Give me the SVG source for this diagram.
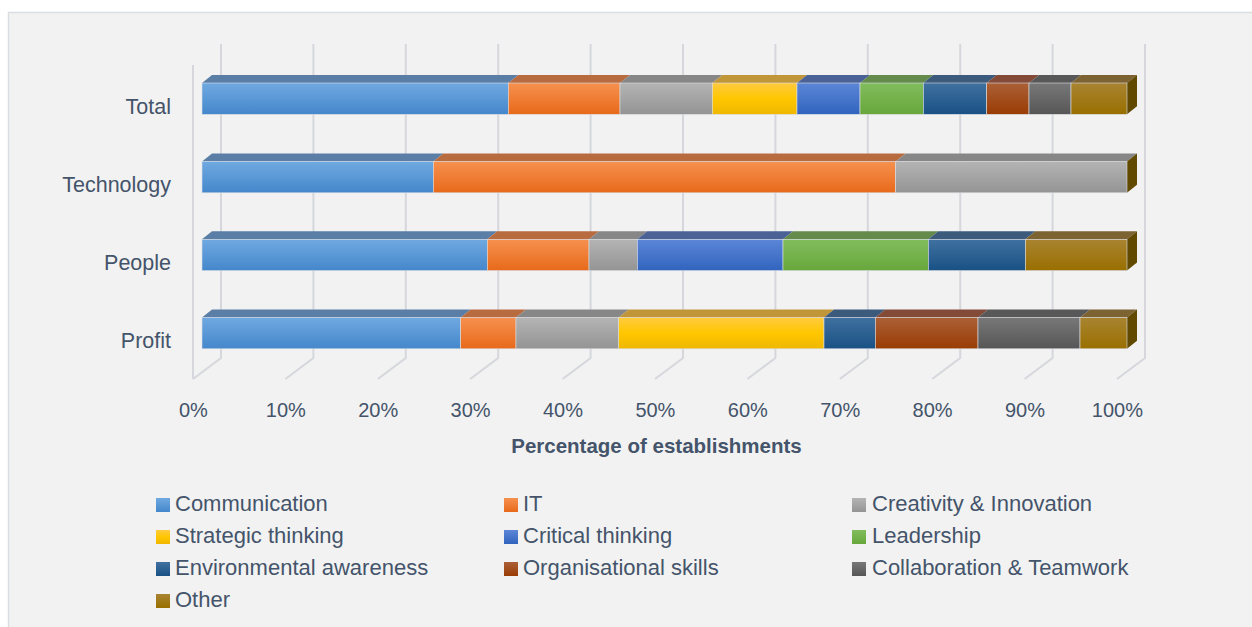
<svg xmlns="http://www.w3.org/2000/svg" width="1252" height="627" viewBox="0 0 1252 627">
<defs>
<linearGradient id="gC" x1="0" y1="0" x2="0" y2="1"><stop offset="0" stop-color="#70a9e1"/><stop offset="1" stop-color="#4487cb"/></linearGradient>
<linearGradient id="gI" x1="0" y1="0" x2="0" y2="1"><stop offset="0" stop-color="#f6914f"/><stop offset="1" stop-color="#e8691a"/></linearGradient>
<linearGradient id="gR" x1="0" y1="0" x2="0" y2="1"><stop offset="0" stop-color="#b4b4b4"/><stop offset="1" stop-color="#949494"/></linearGradient>
<linearGradient id="gS" x1="0" y1="0" x2="0" y2="1"><stop offset="0" stop-color="#ffca40"/><stop offset="0.5" stop-color="#ffc700"/><stop offset="1" stop-color="#efb700"/></linearGradient>
<linearGradient id="gK" x1="0" y1="0" x2="0" y2="1"><stop offset="0" stop-color="#5c86d7"/><stop offset="1" stop-color="#3164be"/></linearGradient>
<linearGradient id="gL" x1="0" y1="0" x2="0" y2="1"><stop offset="0" stop-color="#82bd5d"/><stop offset="1" stop-color="#67a73b"/></linearGradient>
<linearGradient id="gE" x1="0" y1="0" x2="0" y2="1"><stop offset="0" stop-color="#4071a0"/><stop offset="1" stop-color="#195185"/></linearGradient>
<linearGradient id="gO" x1="0" y1="0" x2="0" y2="1"><stop offset="0" stop-color="#ab6037"/><stop offset="1" stop-color="#9a3c04"/></linearGradient>
<linearGradient id="gT" x1="0" y1="0" x2="0" y2="1"><stop offset="0" stop-color="#787878"/><stop offset="1" stop-color="#565656"/></linearGradient>
<linearGradient id="gH" x1="0" y1="0" x2="0" y2="1"><stop offset="0" stop-color="#a98431"/><stop offset="1" stop-color="#996f00"/></linearGradient>
<style>
.txt{font-family:"Liberation Sans",Arial,sans-serif;fill:#44546a}
.cat{font-size:21.5px;text-anchor:end}
.ax{font-size:20px;text-anchor:middle}
.ttl{font-size:20.5px;font-weight:bold;text-anchor:middle}
.leg{font-size:22px}
.grid{stroke:#d5d7dc;stroke-width:2;fill:none}
.fC{fill:url(#gC)}.fI{fill:url(#gI)}.fR{fill:url(#gR)}.fS{fill:url(#gS)}.fK{fill:url(#gK)}
.fL{fill:url(#gL)}.fE{fill:url(#gE)}.fO{fill:url(#gO)}.fT{fill:url(#gT)}.fH{fill:url(#gH)}
.tC{fill:#5a7ea6}.tI{fill:#b96b40}.tR{fill:#878787}.tS{fill:#c09638}.tK{fill:#4a6296}
.tL{fill:#648a4c}.tE{fill:#3c5a7c}.tO{fill:#844a38}.tT{fill:#585858}.tH{fill:#7d6232}
.side{fill:#614900}
.bar rect{stroke:#d9dde3;stroke-width:0.6}
</style>
</defs>

<rect x="0" y="0" width="1252" height="627" fill="#ffffff"/>
<rect x="8.5" y="12.5" width="1250" height="620" fill="#f2f2f2" stroke="#dadde2" stroke-width="1.5"/>

<g id="gridlines">
<path class="grid" d="M193,65 V379"/>
<path class="grid" d="M221,44 V358 L193,379"/>
<path class="grid" d="M313.4,44 V358 L285.4,379"/>
<path class="grid" d="M405.8,44 V358 L377.8,379"/>
<path class="grid" d="M498.2,44 V358 L470.2,379"/>
<path class="grid" d="M590.6,44 V358 L562.6,379"/>
<path class="grid" d="M683,44 V358 L655,379"/>
<path class="grid" d="M775.4,44 V358 L747.4,379"/>
<path class="grid" d="M867.8,44 V358 L839.8,379"/>
<path class="grid" d="M960.2,44 V358 L932.2,379"/>
<path class="grid" d="M1052.6,44 V358 L1024.6,379"/>
<path class="grid" d="M1145,44 V358 L1117,379"/>
</g>

<g id="bar-total" class="bar">
<polygon class="tC" points="202,83 508.3,83 518.3,75 212,75"/>
<polygon class="tI" points="508.3,83 620,83 630,75 518.3,75"/>
<polygon class="tR" points="620,83 712.3,83 722.3,75 630,75"/>
<polygon class="tS" points="712.3,83 797,83 807,75 722.3,75"/>
<polygon class="tK" points="797,83 860,83 870,75 807,75"/>
<polygon class="tL" points="860,83 923.3,83 933.3,75 870,75"/>
<polygon class="tE" points="923.3,83 986.7,83 996.7,75 933.3,75"/>
<polygon class="tO" points="986.7,83 1029,83 1039,75 996.7,75"/>
<polygon class="tT" points="1029,83 1071,83 1081,75 1039,75"/>
<polygon class="tH" points="1071,83 1127,83 1137,75 1081,75"/>
<polygon class="side" points="1127,83 1137,75 1137,106.3 1127,114.3"/>
<rect class="fC" x="202" y="83" width="306.3" height="31.3"/>
<rect class="fI" x="508.3" y="83" width="111.7" height="31.3"/>
<rect class="fR" x="620" y="83" width="92.3" height="31.3"/>
<rect class="fS" x="712.3" y="83" width="84.7" height="31.3"/>
<rect class="fK" x="797" y="83" width="63" height="31.3"/>
<rect class="fL" x="860" y="83" width="63.3" height="31.3"/>
<rect class="fE" x="923.3" y="83" width="63.4" height="31.3"/>
<rect class="fO" x="986.7" y="83" width="42.3" height="31.3"/>
<rect class="fT" x="1029" y="83" width="42" height="31.3"/>
<rect class="fH" x="1071" y="83" width="56" height="31.3"/>
</g>

<g id="bar-technology" class="bar">
<polygon class="tC" points="202,161.5 433.3,161.5 443.3,153.5 212,153.5"/>
<polygon class="tI" points="433.3,161.5 895.7,161.5 905.7,153.5 443.3,153.5"/>
<polygon class="tR" points="895.7,161.5 1127,161.5 1137,153.5 905.7,153.5"/>
<polygon class="side" points="1127,161.5 1137,153.5 1137,184.8 1127,192.8"/>
<rect class="fC" x="202" y="161.5" width="231.3" height="31.3"/>
<rect class="fI" x="433.3" y="161.5" width="462.4" height="31.3"/>
<rect class="fR" x="895.7" y="161.5" width="231.3" height="31.3"/>
</g>

<g id="bar-people" class="bar">
<polygon class="tC" points="202,239.3 487.3,239.3 497.3,231.3 212,231.3"/>
<polygon class="tI" points="487.3,239.3 589,239.3 599,231.3 497.3,231.3"/>
<polygon class="tR" points="589,239.3 637.3,239.3 647.3,231.3 599,231.3"/>
<polygon class="tK" points="637.3,239.3 783,239.3 793,231.3 647.3,231.3"/>
<polygon class="tL" points="783,239.3 928.3,239.3 938.3,231.3 793,231.3"/>
<polygon class="tE" points="928.3,239.3 1025.3,239.3 1035.3,231.3 938.3,231.3"/>
<polygon class="tH" points="1025.3,239.3 1127,239.3 1137,231.3 1035.3,231.3"/>
<polygon class="side" points="1127,239.3 1137,231.3 1137,262.6 1127,270.6"/>
<rect class="fC" x="202" y="239.3" width="285.3" height="31.3"/>
<rect class="fI" x="487.3" y="239.3" width="101.7" height="31.3"/>
<rect class="fR" x="589" y="239.3" width="48.3" height="31.3"/>
<rect class="fK" x="637.3" y="239.3" width="145.7" height="31.3"/>
<rect class="fL" x="783" y="239.3" width="145.3" height="31.3"/>
<rect class="fE" x="928.3" y="239.3" width="97" height="31.3"/>
<rect class="fH" x="1025.3" y="239.3" width="101.7" height="31.3"/>
</g>

<g id="bar-profit" class="bar">
<polygon class="tC" points="202,317.5 460.7,317.5 470.7,309.5 212,309.5"/>
<polygon class="tI" points="460.7,317.5 516,317.5 526,309.5 470.7,309.5"/>
<polygon class="tR" points="516,317.5 618.7,317.5 628.7,309.5 526,309.5"/>
<polygon class="tS" points="618.7,317.5 824,317.5 834,309.5 628.7,309.5"/>
<polygon class="tE" points="824,317.5 875.3,317.5 885.3,309.5 834,309.5"/>
<polygon class="tO" points="875.3,317.5 978,317.5 988,309.5 885.3,309.5"/>
<polygon class="tT" points="978,317.5 1080,317.5 1090,309.5 988,309.5"/>
<polygon class="tH" points="1080,317.5 1127,317.5 1137,309.5 1090,309.5"/>
<polygon class="side" points="1127,317.5 1137,309.5 1137,340.8 1127,348.8"/>
<rect class="fC" x="202" y="317.5" width="258.7" height="31.3"/>
<rect class="fI" x="460.7" y="317.5" width="55.3" height="31.3"/>
<rect class="fR" x="516" y="317.5" width="102.7" height="31.3"/>
<rect class="fS" x="618.7" y="317.5" width="205.3" height="31.3"/>
<rect class="fE" x="824" y="317.5" width="51.3" height="31.3"/>
<rect class="fO" x="875.3" y="317.5" width="102.7" height="31.3"/>
<rect class="fT" x="978" y="317.5" width="102" height="31.3"/>
<rect class="fH" x="1080" y="317.5" width="47" height="31.3"/>
</g>

<g id="category-axis" class="txt cat">
<text x="171" y="114">Total</text>
<text x="171" y="192">Technology</text>
<text x="171" y="270">People</text>
<text x="171" y="348">Profit</text>
</g>

<g id="value-axis" class="txt ax">
<text x="193.4" y="417">0%</text>
<text x="285.8" y="417">10%</text>
<text x="378.2" y="417">20%</text>
<text x="470.6" y="417">30%</text>
<text x="563" y="417">40%</text>
<text x="655.4" y="417">50%</text>
<text x="747.8" y="417">60%</text>
<text x="840.2" y="417">70%</text>
<text x="932.6" y="417">80%</text>
<text x="1025" y="417">90%</text>
<text x="1117.4" y="417">100%</text>
</g>

<g id="axis-title">
<text class="txt ttl" x="656.5" y="453">Percentage of establishments</text>
</g>

<g id="legend" class="txt leg">
<g id="leg-communication"><rect class="fC" x="156" y="498" width="14" height="14"/><text x="175" y="511">Communication</text></g>
<g id="leg-it"><rect class="fI" x="504" y="498" width="14" height="14"/><text x="523" y="511">IT</text></g>
<g id="leg-creativity"><rect class="fR" x="852" y="498" width="14" height="14"/><text x="872" y="511">Creativity &amp; Innovation</text></g>
<g id="leg-strategic"><rect class="fS" x="156" y="530" width="14" height="14"/><text x="175" y="543">Strategic thinking</text></g>
<g id="leg-critical"><rect class="fK" x="504" y="530" width="14" height="14"/><text x="523" y="543">Critical thinking</text></g>
<g id="leg-leadership"><rect class="fL" x="852" y="530" width="14" height="14"/><text x="872" y="543">Leadership</text></g>
<g id="leg-environmental"><rect class="fE" x="156" y="562" width="14" height="14"/><text x="175" y="575">Environmental awareness</text></g>
<g id="leg-organisational"><rect class="fO" x="504" y="562" width="14" height="14"/><text x="523" y="575">Organisational skills</text></g>
<g id="leg-collaboration"><rect class="fT" x="852" y="562" width="14" height="14"/><text x="872" y="575">Collaboration &amp; Teamwork</text></g>
<g id="leg-other"><rect class="fH" x="156" y="594" width="14" height="14"/><text x="175" y="607">Other</text></g>
</g>
</svg>
